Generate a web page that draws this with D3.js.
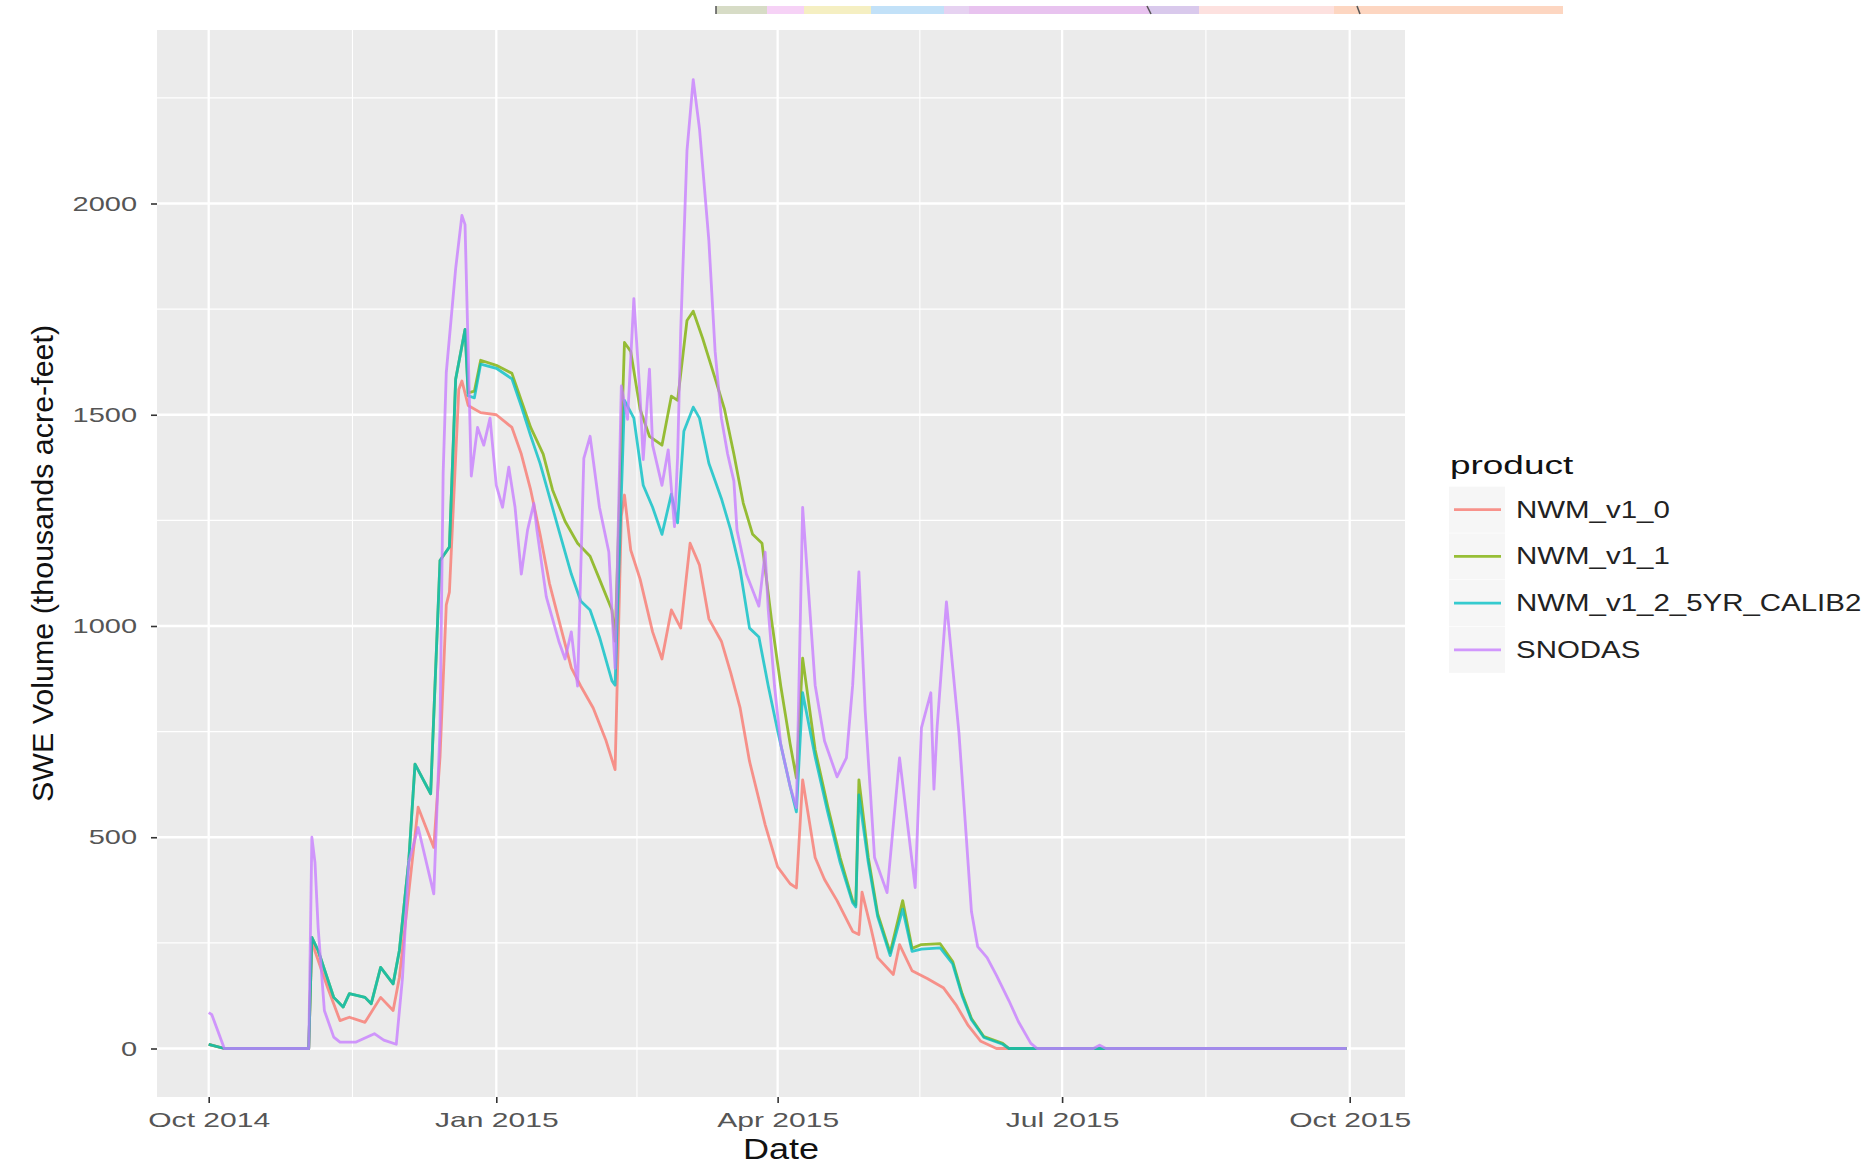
<!DOCTYPE html>
<html>
<head>
<meta charset="utf-8">
<script src="https://cdn.jsdelivr.net/npm/d3@7"></script>
<style>
  body { margin: 0; background: #fff; }
  text { font-family: "Liberation Sans", Arial, sans-serif; }
</style>
</head>
<body>
<svg id="chart"></svg>
<script>
// ---- data ----
const PRODUCTS = ['NWM_v1_0', 'NWM_v1_1', 'NWM_v1_2_5YR_CALIB2', 'SNODAS'];
const COLORS = ['#F8766D', '#7CAE00', '#00BFC4', '#C77CFF'];
const START = '2014-10-01';
const Y_TICKS = [0, 500, 1000, 1500, 2000];
const Y_MINOR = [250, 750, 1250, 1750, 2250];
const X_TICKS = ['2014-10-01', '2015-01-01', '2015-04-01', '2015-07-01', '2015-10-01'];
const X_TICK_LABELS = ['Oct 2014', 'Jan 2015', 'Apr 2015', 'Jul 2015', 'Oct 2015'];

// days since 1 Oct 2014, SWE volume (thousands acre-feet)
const nwm10Days = [0, 5, 32, 33, 34, 38, 42, 45, 50, 55, 59, 61, 67, 72, 74, 76, 77, 80, 81, 83,
  87, 92, 97, 100, 103, 106, 109, 113, 116, 119, 123, 127, 130, 132, 133, 135, 138, 142, 145, 148,
  151, 154, 157, 160, 164, 167, 170, 173, 178, 182, 186, 188, 190, 194, 197, 201, 206, 208, 209, 212,
  214, 219, 221, 225, 230, 235, 239, 243, 247, 252, 364];
const nwm10Swe = [10, 0, 0, 260, 230, 145, 66, 74, 62, 121, 90, 168, 571, 476, 690, 1050, 1080, 1560, 1580, 1522,
  1505, 1500, 1470, 1407, 1322, 1217, 1101, 986, 901, 858, 806, 731, 660, 1260, 1310, 1180, 1111, 986, 922, 1038,
  995, 1196, 1144, 1017, 964, 889, 806, 680, 530, 430, 390, 380, 636, 452, 400, 350, 277, 270, 370, 280,
  215, 175, 246, 184, 165, 144, 104, 54, 17, 0, 0];

const nwm11Days = [0, 5, 32, 33, 35, 40, 43, 45, 50, 52, 55, 59, 61, 64, 66, 71, 74, 77, 79, 82,
  83, 85, 87, 92, 97, 100, 103, 107, 110, 114, 118, 122, 125, 129, 130, 133, 135, 138, 141, 145,
  148, 150, 153, 155, 158, 162, 165, 168, 171, 174, 177, 180, 183, 186, 188, 190, 194, 198, 202, 206,
  207, 208, 211, 214, 218, 222, 225, 228, 234, 238, 241, 244, 248, 254, 256, 364];
const nwm11Swe = [10, 0, 0, 263, 232, 121, 98, 130, 121, 106, 192, 153, 232, 444, 673, 603, 1155, 1187, 1584, 1702,
  1552, 1556, 1629, 1617, 1598, 1534, 1470, 1407, 1322, 1248, 1196, 1165, 1111, 1038, 964, 1671, 1650, 1513, 1449, 1428,
  1544, 1534, 1723, 1745, 1681, 1586, 1513, 1407, 1291, 1217, 1196, 1017, 858, 721, 640, 924, 707, 574, 452, 350,
  340, 636, 452, 319, 227, 350, 237, 246, 248, 206, 130, 71, 28, 12, 0, 0];

const nwm12Days = [0, 5, 32, 33, 35, 40, 43, 45, 50, 52, 55, 59, 61, 64, 66, 71, 74, 77, 79, 82,
  83, 85, 87, 92, 97, 100, 103, 106, 112, 116, 119, 122, 125, 129, 130, 133, 136, 139, 142, 145,
  148, 150, 152, 155, 157, 160, 164, 167, 170, 173, 176, 179, 182, 186, 188, 190, 194, 198, 202, 206,
  207, 208, 211, 214, 218, 222, 225, 228, 234, 238, 241, 244, 248, 254, 256, 364];
const nwm12Swe = [10, 0, 0, 263, 232, 121, 98, 130, 121, 106, 192, 153, 232, 444, 673, 603, 1155, 1187, 1584, 1702,
  1545, 1540, 1620, 1610, 1585, 1520, 1450, 1385, 1227, 1123, 1059, 1038, 974, 870, 860, 1534, 1492, 1333, 1281, 1217,
  1312, 1244, 1461, 1518, 1492, 1385, 1302, 1227, 1133, 995, 974, 858, 752, 620, 560, 842, 690, 560, 440, 345,
  335, 600, 440, 312, 220, 330, 230, 235, 238, 200, 125, 68, 26, 10, 0, 0];

const snodasDays = [0, 1, 5, 32, 33, 34, 35, 37, 40, 42, 47, 53, 56, 60, 62, 64, 67, 72, 74, 75,
  76, 79, 81, 82, 84, 86, 88, 90, 92, 94, 96, 98, 100, 102, 104, 105, 108, 112, 114, 116,
  118, 120, 122, 125, 128, 130, 132, 134, 136, 138, 139, 141, 142, 145, 147, 149, 150, 151, 153, 155,
  157, 160, 162, 164, 166, 168, 169, 172, 176, 178, 179, 181, 183, 186, 188, 190, 194, 197, 201, 204,
  206, 208, 210, 213, 217, 221, 226, 228, 231, 232, 233, 236, 240, 242, 244, 246, 249, 252, 256, 259,
  263, 265, 283, 285, 287, 364];
const snodasSwe = [85, 80, 0, 0, 500, 440, 287, 90, 27, 15, 15, 35, 20, 10, 168, 441, 523, 366, 760, 1362,
  1600, 1846, 1972, 1950, 1355, 1470, 1428, 1492, 1333, 1281, 1376, 1281, 1123, 1227, 1290, 1227, 1069, 964, 922, 986,
  858, 1397, 1449, 1281, 1175, 900, 1568, 1489, 1775, 1544, 1394, 1608, 1428, 1333, 1417, 1235, 1400, 1700, 2125, 2293,
  2177, 1912, 1650, 1492, 1407, 1343, 1227, 1123, 1047, 1175, 1038, 858, 720, 620, 570, 1281, 860, 728, 643, 688,
  860, 1128, 800, 452, 369, 688, 381, 759, 842, 614, 759, 1057, 747, 537, 324, 241, 215, 173, 113, 64,
  12, 0, 0, 8, 0, 0];

// ---- layout ----
const W = 1876, H = 1164;
const panel = { left: 157, right: 1405, top: 30, bottom: 1097 };

const svg = d3.select('#chart').attr('width', W).attr('height', H);

const parseDate = d3.timeParse('%Y-%m-%d');
const start = parseDate(START);
const toRows = (days, swe) => days.map((d, i) => ({ date: d3.timeDay.offset(start, d), swe: swe[i] }));
const series = [
  toRows(nwm10Days, nwm10Swe),
  toRows(nwm11Days, nwm11Swe),
  toRows(nwm12Days, nwm12Swe),
  toRows(snodasDays, snodasSwe)
];

const xTickDates = X_TICKS.map(parseDate);
const x = d3.scaleTime()
  .domain([xTickDates[0], xTickDates[xTickDates.length - 1]])
  .range([208.7, 1349.7]);
const y = d3.scaleLinear().domain([0, 2000]).range([1048.5, 203.5]);

// stray strip of another figure along the top edge
const strip = [
  [716, 767, '#d7dcc6'], [767, 804, '#f6d2f6'], [804, 871, '#f5efc2'], [871, 944, '#c2e1f8'],
  [944, 969, '#e6d2f1'], [969, 1149, '#e8c3ef'], [1149, 1199, '#d9c9ec'], [1199, 1334, '#fde1df'],
  [1334, 1563, '#fdd6c1']
];
svg.append('g').selectAll('rect').data(strip).join('rect')
  .attr('x', d => d[0]).attr('width', d => d[1] - d[0])
  .attr('y', 6).attr('height', 8).attr('fill', d => d[2]);
svg.append('g').attr('stroke', '#555').attr('stroke-width', 1.5).attr('fill', 'none')
  .selectAll('path').data([[716, 716], [1147, 1151], [1357, 1360]]).join('path')
  .attr('d', d => `M${d[0]},6 L${d[1]},14`);

// panel
svg.append('rect')
  .attr('x', panel.left).attr('y', panel.top)
  .attr('width', panel.right - panel.left).attr('height', panel.bottom - panel.top)
  .attr('fill', '#EBEBEB');

const grid = svg.append('g').attr('stroke', '#fff').attr('fill', 'none');
const xMinor = d3.pairs(xTickDates).map(([a, b]) => new Date((+a + +b) / 2));
grid.selectAll('.ymin').data(Y_MINOR).join('line').attr('class', 'ymin')
  .attr('x1', panel.left).attr('x2', panel.right)
  .attr('y1', d => y(d)).attr('y2', d => y(d)).attr('stroke-width', 1.1);
grid.selectAll('.xmin').data(xMinor).join('line').attr('class', 'xmin')
  .attr('y1', panel.top).attr('y2', panel.bottom)
  .attr('x1', d => x(d)).attr('x2', d => x(d)).attr('stroke-width', 1.1);
grid.selectAll('.ymaj').data(Y_TICKS).join('line').attr('class', 'ymaj')
  .attr('x1', panel.left).attr('x2', panel.right)
  .attr('y1', d => y(d)).attr('y2', d => y(d)).attr('stroke-width', 2.3);
grid.selectAll('.xmaj').data(xTickDates).join('line').attr('class', 'xmaj')
  .attr('y1', panel.top).attr('y2', panel.bottom)
  .attr('x1', d => x(d)).attr('x2', d => x(d)).attr('stroke-width', 2.3);

// lines
const line = d3.line().x(d => x(d.date)).y(d => y(d.swe));
svg.append('g').selectAll('path').data(series).join('path')
  .attr('d', line)
  .attr('fill', 'none')
  .attr('stroke', (d, i) => COLORS[i])
  .attr('stroke-width', 2.8)
  .attr('stroke-linejoin', 'round')
  .attr('stroke-opacity', 0.78);

// stretch text horizontally, the picture's glyphs run wide
function stretch(sel, k) {
  sel.each(function () {
    const n = this.getComputedTextLength();
    d3.select(this).attr('textLength', n * k).attr('lengthAdjust', 'spacingAndGlyphs');
  });
}

// axes
const xAxis = svg.append('g')
  .attr('transform', `translate(0,${panel.bottom})`)
  .call(d3.axisBottom(x).tickValues(xTickDates).tickSize(6).tickPadding(9)
    .tickFormat((d, i) => X_TICK_LABELS[i]));
const yAxis = svg.append('g')
  .attr('transform', `translate(${panel.left},0)`)
  .call(d3.axisLeft(y).tickValues(Y_TICKS).tickSize(6).tickPadding(14).tickFormat(d3.format('d')));
[xAxis, yAxis].forEach(g => {
  g.select('.domain').remove();
  g.selectAll('.tick line').attr('stroke', '#333').attr('stroke-width', 1.6);
  g.selectAll('.tick text').attr('fill', '#555').attr('font-size', 21)
    .attr('font-family', '"Liberation Sans", Arial, sans-serif');
});
stretch(xAxis.selectAll('.tick text'), 1.43);
stretch(yAxis.selectAll('.tick text'), 1.38);

const xTitle = svg.append('text').attr('x', (panel.left + panel.right) / 2).attr('y', 1159)
  .attr('text-anchor', 'middle').attr('font-size', 30).attr('fill', '#111').text('Date');
stretch(xTitle, 1.2);

const yTitle = svg.append('text')
  .attr('transform', `translate(43,${(panel.top + panel.bottom) / 2}) rotate(-90)`)
  .attr('text-anchor', 'middle').attr('dy', '0.35em')
  .attr('font-size', 29).attr('fill', '#111').text('SWE Volume (thousands acre-feet)');
stretch(yTitle, 1.05);

// legend
const legend = svg.append('g');
const legTitle = legend.append('text').attr('x', 1450).attr('y', 474)
  .attr('font-size', 26).attr('fill', '#111').text('product');
stretch(legTitle, 1.42);
const keyY = i => 509.7 + i * 46.7;
const keys = legend.selectAll('g.key').data(PRODUCTS).join('g').attr('class', 'key');
keys.append('rect')
  .attr('x', 1449).attr('y', (d, i) => keyY(i) - 23).attr('width', 56).attr('height', 46)
  .attr('fill', '#F6F6F6');
keys.append('line')
  .attr('x1', 1454).attr('x2', 1501)
  .attr('y1', (d, i) => keyY(i)).attr('y2', (d, i) => keyY(i))
  .attr('stroke', (d, i) => COLORS[i]).attr('stroke-width', 2.8).attr('stroke-opacity', 0.78);
const keyText = keys.append('text')
  .attr('x', 1516).attr('y', (d, i) => keyY(i)).attr('dy', '0.35em')
  .attr('font-size', 23).attr('fill', '#222').text(d => d);
stretch(keyText, 1.28);
</script>
</body>
</html>
